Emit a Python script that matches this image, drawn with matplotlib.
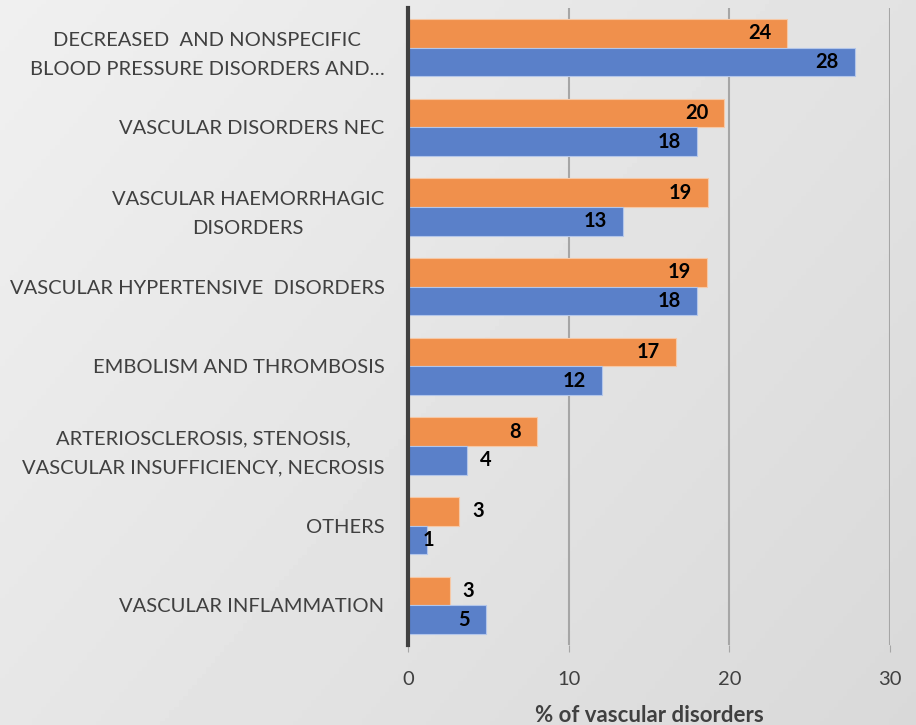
import numpy as np
import matplotlib
matplotlib.use('Agg')
import matplotlib.pyplot as plt

# categories from top to bottom
categories = [
    'DECREASED  AND NONSPECIFIC\nBLOOD PRESSURE DISORDERS AND…',
    'VASCULAR DISORDERS NEC',
    'VASCULAR HAEMORRHAGIC\nDISORDERS',
    'VASCULAR HYPERTENSIVE  DISORDERS',
    'EMBOLISM AND THROMBOSIS',
    'ARTERIOSCLEROSIS, STENOSIS,\nVASCULAR INSUFFICIENCY, NECROSIS',
    'OTHERS',
    'VASCULAR INFLAMMATION',
]
orange_vals = [23.6, 19.7, 18.7, 18.6, 16.7, 8.0, 3.2, 2.6]
blue_vals = [27.8, 18.0, 13.4, 18.0, 12.1, 3.7, 1.2, 4.85]
x_ticks = [0, 10, 20, 30]
x_label = '% of vascular disorders'

plt.rcParams['font.family'] = ['Lato', 'DejaVu Sans']

fig = plt.figure(figsize=(9.16, 7.25), dpi=100)

# gradient background
bg = fig.add_axes([0, 0, 1, 1], zorder=0)
gx, gy = np.meshgrid(np.linspace(0, 1, 200), np.linspace(0, 1, 200))
grad = 0.94 - 0.09 * (0.6 * gx + 0.4 * gy)
bg.imshow(grad, cmap='gray', vmin=0, vmax=1, aspect='auto', extent=[0, 1, 0, 1])
bg.set_axis_off()

ax = fig.add_axes([0.4454, 0.1103, 0.5262, 0.879], zorder=1)
ax.set_facecolor('none')

y = np.arange(len(categories))
h = 0.36
ax.barh(y - h / 2, orange_vals, height=h, color='#F0904C', edgecolor='#F6C8A6', linewidth=0.8, zorder=3)
ax.barh(y + h / 2, blue_vals, height=h, color='#5A80C9', edgecolor='#B3C6EA', linewidth=0.8, zorder=3)

lab_kw = dict(va='center', fontsize=14.5, fontweight='bold', color='black', zorder=4)

def put_label(v, yy):
    txt = str(int(round(v)))
    if v > 4.5:
        ax.text(v - 1.0, yy, txt, ha='right', **lab_kw)
    else:
        ax.text(v + 0.8, yy, txt, ha='left', **lab_kw)

for i in range(len(categories)):
    put_label(orange_vals[i], y[i] - h / 2)
    if blue_vals[i] < 2:
        ax.text(blue_vals[i] - 0.3, y[i] + h / 2, str(int(round(blue_vals[i]))), ha='left', **lab_kw)
    else:
        put_label(blue_vals[i], y[i] + h / 2)

ax.set_ylim(len(categories) - 0.5, -0.5)
ax.set_xlim(0, 30)
ax.set_yticks(y)
ax.set_yticklabels(categories, fontsize=14.5, color='#404040', multialignment='center', linespacing=1.85)
ax.set_xticks(x_ticks)
ax.set_xticklabels([str(t) for t in x_ticks], fontsize=14.5, color='#404040')
ax.tick_params(axis='y', length=0, pad=17)
ax.tick_params(axis='x', length=5, color='#a6a6a6', pad=14)
ax.set_xlabel(x_label, fontsize=16, fontweight='bold', color='#404040', labelpad=12)

ax.grid(axis='x', color='#a6a6a6', linewidth=1.5, zorder=1)
for s in ['top', 'right', 'bottom']:
    ax.spines[s].set_visible(False)
ax.spines['left'].set_color('#404040')
ax.spines['left'].set_linewidth(3)
ax.spines['left'].set_zorder(5)

fig.savefig('out.png', dpi=100)
